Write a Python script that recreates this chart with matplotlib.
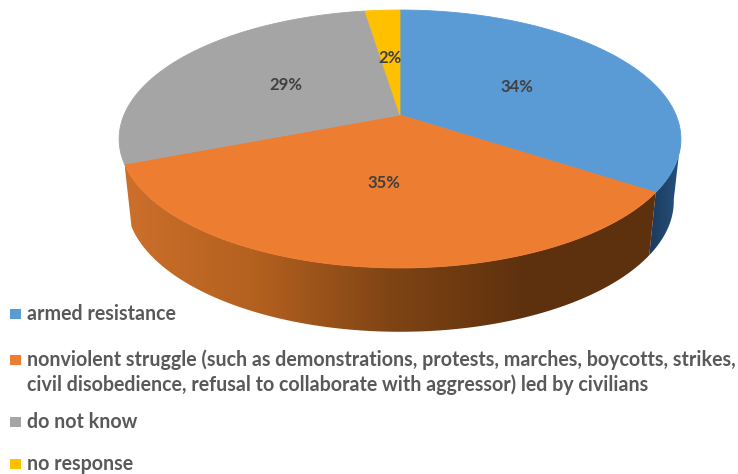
import numpy as np
import matplotlib
matplotlib.use("Agg")
import matplotlib.pyplot as plt
from matplotlib.colors import LinearSegmentedColormap
from matplotlib.patches import Polygon, Rectangle

# slice shares (percent)
categories = ["armed resistance",
              "nonviolent struggle (such as demonstrations, protests, marches, boycotts, strikes,\n"
              "civil disobedience, refusal to collaborate with aggressor) led by civilians",
              "do not know",
              "no response"]
values = [34.4, 34.6, 28.6, 2.4]
colors = ["#5B9BD5", "#ED7D31", "#A5A5A5", "#FFC000"]
legend_y = [314, 360, 422, 464]

plt.rcParams['font.family'] = ['Lato', 'DejaVu Sans']
fig = plt.figure(figsize=(7.38, 4.74), dpi=100)
ax = fig.add_axes([0, 0, 1, 1])
ax.set_xlim(0, 738)
ax.set_ylim(474, 0)
ax.axis('off')


# perspective view of the disc, top face and lower rim
def project(theta, r=1.0, lower=False):
    u = r * np.sin(theta)
    v = r * np.cos(theta)
    w = 1 + 0.186 * v
    if lower:
        return 400 + 269 * u / w, 177 - 126 * v / w
    return 400 + 276 * u / w, 115 - 124.5 * v / w


def arc(a, b, lower=False):
    t = np.linspace(a, b, 120)
    x, y = project(t, lower=lower)
    return np.column_stack([x, y])


edges = np.cumsum([0] + values) / 100 * 2 * np.pi

# side walls, shaded left to right
side_maps = [LinearSegmentedColormap.from_list("b", ["#1B3A5C", "#27527E"]),
             LinearSegmentedColormap.from_list("o", ["#CC6F2B", "#B3601F", "#7F4414", "#5E310E", "#5E310E"])]
side_start = [np.radians(100), edges[1]]
side_end = [edges[1], edges[2]]
for cmap, a, b in zip(side_maps, side_start, side_end):
    pts = np.vstack([arc(a, b), arc(b, a, lower=True)])
    poly = Polygon(pts, closed=True, facecolor='none', edgecolor='none')
    ax.add_patch(poly)
    grad = np.linspace(0, 1, 256).reshape(1, -1)
    x0, x1 = pts[:, 0].min(), pts[:, 0].max()
    y0, y1 = pts[:, 1].min(), pts[:, 1].max()
    im = ax.imshow(grad, cmap=cmap, extent=[x0, x1, y1, y0], aspect='auto', zorder=1)
    im.set_clip_path(poly)
ax.set_xlim(0, 738)
ax.set_ylim(474, 0)

# top face
for i, c in enumerate(colors):
    cx, cy = project(0.0, r=0.0)
    pts = np.vstack([[cx, cy], arc(edges[i], edges[i + 1])])
    ax.add_patch(Polygon(pts, closed=True, facecolor=c, edgecolor=c, linewidth=0.6, zorder=2))

# value labels halfway along each slice
for i, v in enumerate(values):
    mid = (edges[i] + edges[i + 1]) / 2
    lx, ly = project(mid, r=0.5)
    ax.text(lx, ly, f"{round(v)}%", ha='center', va='center', fontsize=12,
            fontweight='bold', color='#404040', zorder=3)

# legend
for name, c, y in zip(categories, colors, legend_y):
    ax.add_patch(Rectangle((10, y - 5), 11, 10, facecolor=c, edgecolor='none'))
    for j, line in enumerate(name.split("\n")):
        ax.text(27, y + j * 25, line, ha='left', va='center', fontsize=14.1,
                fontweight='bold', color='#595959')

fig.savefig("out.png", dpi=100)
